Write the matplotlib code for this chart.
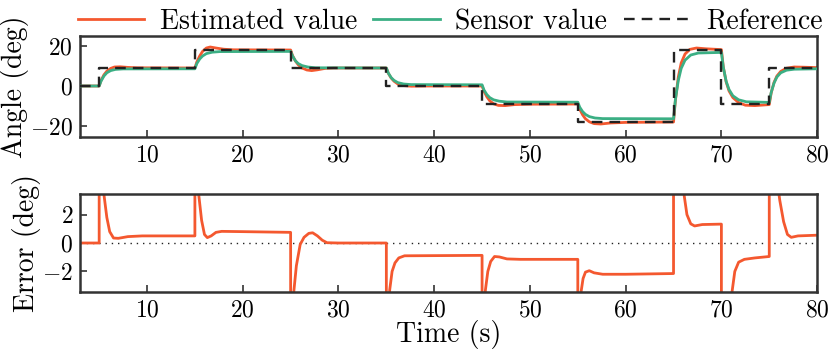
import matplotlib
matplotlib.use("Agg")
import matplotlib.pyplot as plt

plt.rcParams.update({
    "font.family": "cmr10",
    "axes.formatter.use_mathtext": True,
    "mathtext.fontset": "custom",
    "mathtext.rm": "cmss10",
    "mathtext.sf": "cmss10",
    "mathtext.it": "cmss10",
    "mathtext.fallback": "cm",
})

# ---------------- data ----------------
ref_t = [3, 5, 15, 25, 35, 45, 55, 65, 70, 75, 80]
ref_v = [0, 9, 18, 9, 0, -9, -18, 18, -9, 9, 9]

sensor_t = [3, 5, 5.2, 5.5, 5.8, 6.2, 6.7, 7.5, 15,
            15.2, 15.5, 15.8, 16.2, 16.8, 17.6, 25,
            25.2, 25.5, 25.8, 26.2, 26.8, 27.6, 35,
            35.2, 35.5, 35.8, 36.2, 36.8, 37.6, 45,
            45.2, 45.5, 45.8, 46.2, 46.8, 47.6, 55,
            55.2, 55.5, 55.8, 56.2, 56.8, 57.6, 65,
            65.2, 65.5, 65.8, 66.2, 66.8, 67.6, 70,
            70.2, 70.5, 70.8, 71.2, 71.8, 72.6, 75,
            75.2, 75.5, 75.8, 76.2, 76.8, 77.6, 80]
sensor_v = [0, 0, 2.5, 5.0, 6.6, 7.7, 8.3, 8.55, 8.6,
            11.2, 13.5, 15.0, 16.2, 16.9, 17.2, 17.3,
            15.0, 12.6, 11.2, 10.2, 9.5, 9.1, 9.0,
            6.5, 4.2, 2.8, 1.7, 1.0, 0.7, 0.6,
            -2.0, -4.3, -5.8, -6.9, -7.6, -8.0, -8.1,
            -10.6, -12.8, -14.2, -15.3, -16.0, -16.3, -16.4,
            -6.5, 2.8, 8.8, 12.9, 15.5, 16.5, 16.8,
            9.3, 2.3, -1.8, -4.9, -6.9, -7.9, -8.2,
            -3.2, 1.5, 4.5, 6.6, 7.9, 8.4, 8.6]

est_t = [3, 5, 5.2, 5.5, 5.8, 6.2, 6.6, 7.2, 8, 9, 15,
         15.2, 15.5, 15.8, 16.2, 16.6, 17.2, 18, 19, 25,
         25.2, 25.5, 25.8, 26.2, 26.7, 27.2, 27.8, 28.6, 29.5, 35,
         35.2, 35.5, 35.8, 36.2, 36.8, 37.6, 39, 45,
         45.2, 45.5, 45.8, 46.2, 46.7, 47.4, 48.4, 50, 55,
         55.2, 55.5, 55.8, 56.2, 56.7, 57.4, 58.4, 60, 65,
         65.2, 65.5, 65.8, 66.2, 66.7, 67.4, 68.4, 70,
         70.2, 70.5, 70.8, 71.2, 71.8, 72.5, 73.5, 75,
         75.2, 75.5, 75.8, 76.2, 76.8, 77.6, 78.6, 80]
est_v = [0, 0, 2.8, 5.6, 7.4, 8.8, 9.5, 9.6, 9.3, 9.1, 9.0,
         12.0, 15.0, 17.3, 19.0, 19.5, 19.0, 18.4, 18.1, 18.0,
         15.2, 12.5, 10.6, 9.0, 8.0, 7.7, 8.1, 8.8, 9.0, 9.0,
         6.4, 4.0, 2.4, 1.0, 0.2, -0.1, 0.0, 0.0,
         -2.6, -5.4, -7.4, -8.9, -9.7, -9.8, -9.3, -9.1, -9.0,
         -11.6, -14.4, -16.4, -17.9, -18.8, -19.0, -18.5, -18.2, -18.0,
         -7.0, 4.5, 11.5, 16.0, 18.3, 19.0, 18.6, 18.2,
         9.5, 2.0, -2.5, -5.8, -8.3, -9.6, -9.8, -9.3,
         -3.5, 1.8, 5.0, 7.3, 8.9, 9.5, 9.4, 9.2]

err_t = [3, 5, 5, 5.25, 5.5, 5.8, 6.1, 6.5, 7.0, 8, 9.5, 15,
         15, 15.2, 15.4, 15.7, 16.0, 16.3, 16.7, 17.2, 17.8, 20, 25,
         25, 25.15, 25.35, 25.6, 26.0, 26.4, 26.9, 27.3, 27.8, 28.3, 28.8, 30, 35,
         35, 35.15, 35.35, 35.6, 35.9, 36.3, 36.9, 45,
         45, 45.15, 45.35, 45.6, 45.9, 46.3, 46.8, 47.6, 49, 55,
         55, 55.15, 55.35, 55.55, 55.8, 56.2, 56.7, 57.6, 60, 65,
         65, 65.5, 65.8, 66.1, 66.4, 66.8, 67.2, 68, 70,
         70, 70.4, 70.8, 71.1, 71.4, 71.8, 72.4, 73.5, 75,
         75, 75.4, 75.8, 76.1, 76.5, 76.9, 77.3, 78, 80]
err_v = [0, 0, 9, 5.5, 3.4, 1.8, 0.8, 0.35, 0.33, 0.45, 0.5, 0.5,
         9.4, 5.5, 3.4, 1.6, 0.6, 0.38, 0.5, 0.75, 0.82, 0.8, 0.75,
         -8.3, -5.0, -3.3, -1.6, -0.1, 0.4, 0.68, 0.72, 0.5, 0.2, 0.02, 0.0, 0.0,
         -9.0, -5.5, -3.3, -2.0, -1.4, -1.05, -0.9, -0.87,
         -9.9, -5.5, -3.3, -2.0, -1.3, -0.95, -0.98, -1.12, -1.15, -1.15,
         -10.0, -5.5, -3.4, -2.5, -2.05, -1.95, -2.1, -2.2, -2.2, -2.15,
         34.0, 10.0, 5.5, 3.4, 2.0, 1.35, 1.2, 1.3, 1.33,
         -25.7, -12.0, -5.5, -3.5, -2.0, -1.35, -1.15, -1.05, -0.95,
         17.0, 8.0, 4.5, 3.0, 1.5, 0.6, 0.4, 0.5, 0.55]

x_ticks = [10, 20, 30, 40, 50, 60, 70, 80]
angle_ticks = [-20, 0, 20]
err_ticks = [-2, 0, 2]

# ---------------- style ----------------
C_EST = "#F4582F"
C_SEN = "#3BAF84"
C_REF = "#222222"
SPINE = "#333333"
LBL = 20
TCK = 17

fig = plt.figure(figsize=(8.31, 3.59), dpi=100)
ax1 = fig.add_axes([0.0963, 0.6184, 0.887, 0.2813])
ax2 = fig.add_axes([0.0963, 0.1866, 0.887, 0.273])

l1, = ax1.plot(est_t, est_v, color=C_EST, lw=2.0, label="Estimated value", zorder=2)
l2, = ax1.plot(sensor_t, sensor_v, color=C_SEN, lw=2.0, label="Sensor value", zorder=3)
l3, = ax1.plot(ref_t, ref_v, color=C_REF, lw=1.7, ls=(0, (4.5, 3)), drawstyle="steps-post",
               label="Reference", zorder=4)

ax2.axhline(0, color="#222222", lw=1.0, ls=(0, (1, 3.5)), zorder=1)
ax2.plot(err_t, err_v, color=C_EST, lw=2.0, zorder=2)

ax1.set_xlim(3, 80)
ax1.set_ylim(-25.5, 25)
ax2.set_xlim(3, 80)
ax2.set_ylim(-3.45, 3.45)

for ax in (ax1, ax2):
    ax.set_xticks(x_ticks)
    ax.tick_params(direction="in", length=5, width=1.2, labelsize=TCK, color=SPINE,
                   top=False, right=False, pad=5)
    for s in ax.spines.values():
        s.set_linewidth(1.8)
        s.set_color(SPINE)
ax1.set_yticks(angle_ticks)
ax2.set_yticks(err_ticks)

ax1.set_ylabel("Angle (deg)", fontsize=LBL, labelpad=1)
ax2.set_ylabel("Error (deg)", fontsize=LBL, labelpad=1)
ax2.set_xlabel("Time (s)", fontsize=LBL, labelpad=-1)

fig.legend(handles=[l1, l2, l3], loc="upper center", bbox_to_anchor=(0.5415, 1.045),
           ncol=3, frameon=False, fontsize=LBL, handlelength=2.4, handletextpad=0.55,
           columnspacing=0.6)

fig.savefig("out.png", dpi=100)
